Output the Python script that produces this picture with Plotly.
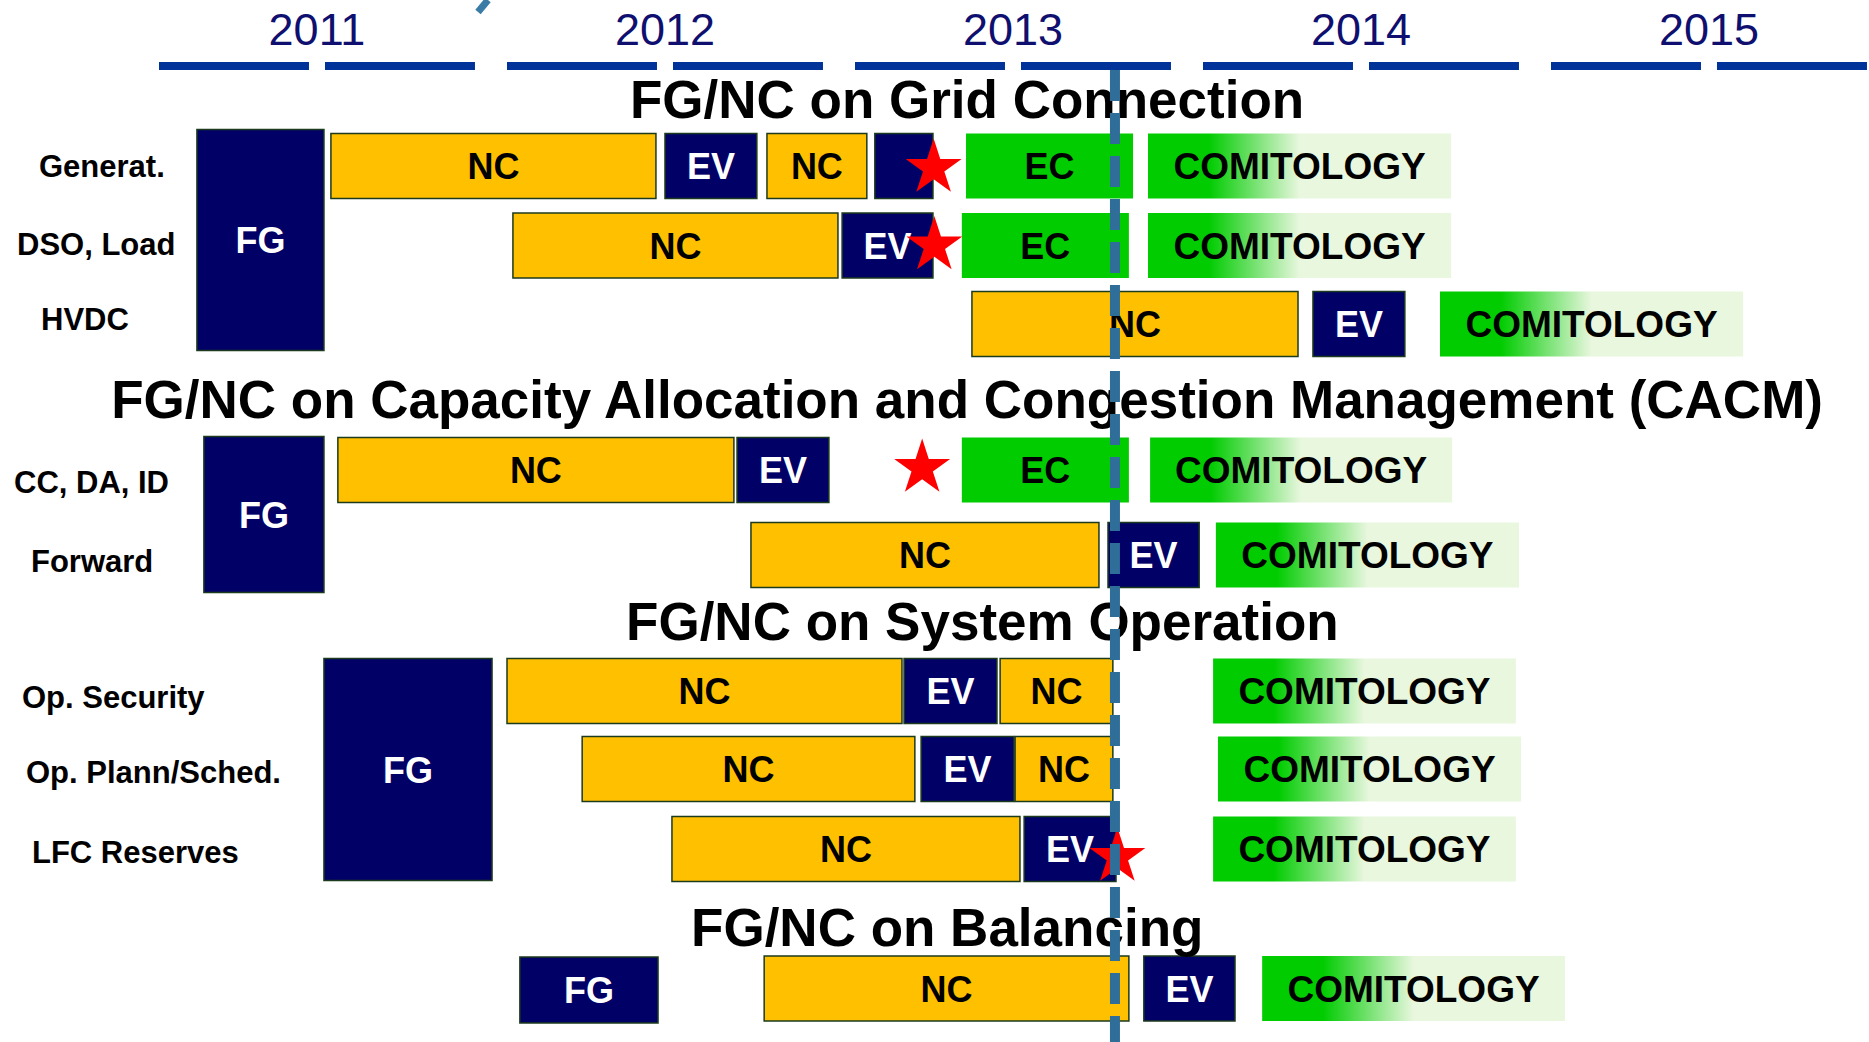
import plotly.graph_objects as go

# ---------------- DATA ----------------
YEARS = [2011, 2012, 2013, 2014, 2015]

ROW_NAMES = ["Generat.", "DSO, Load", "HVDC", "CC, DA, ID", "Forward",
             "Op. Security", "Op. Plann/Sched.", "LFC Reserves", "Balancing"]
ROW_LABELS = ["Generat.", "DSO, Load", "HVDC", "CC, DA, ID", "Forward",
              "Op. Security", "Op. Plann/Sched.", "LFC Reserves", ""]

SECTION_TITLES = ["FG/NC on Grid Connection",
                  "FG/NC on Capacity Allocation and Congestion Management (CACM)",
                  "FG/NC on System Operation",
                  "FG/NC on Balancing"]

# Framework Guidelines (each spans several rows)
FG_FIRST_ROW = ["Generat.", "CC, DA, ID", "Op. Security", "Balancing"]
FG_LAST_ROW = ["HVDC", "Forward", "LFC Reserves", "Balancing"]
FG_START = [2011.109, 2011.129, 2011.474, 2012.037]
FG_END = [2011.474, 2011.474, 2011.957, 2012.434]

# Network Code drafting
NC_ROW = ["Generat.", "Generat.", "DSO, Load", "HVDC", "CC, DA, ID", "Forward",
          "Op. Security", "Op. Security", "Op. Plann/Sched.", "Op. Plann/Sched.",
          "LFC Reserves", "Balancing"]
NC_START = [2011.494, 2012.747, 2012.017, 2013.336, 2011.514, 2012.701,
            2012.000, 2013.417, 2012.216, 2013.460, 2012.474, 2012.739]
NC_END = [2012.428, 2013.034, 2012.951, 2014.273, 2012.652, 2013.701,
          2013.135, 2013.741, 2013.172, 2013.741, 2013.474, 2013.787]

# Evaluation
EV_ROW = ["Generat.", "Generat.", "DSO, Load", "HVDC", "CC, DA, ID", "Forward",
          "Op. Security", "Op. Plann/Sched.", "LFC Reserves", "Balancing"]
EV_START = [2012.454, 2013.057, 2012.963, 2014.316, 2012.661, 2013.727,
            2013.141, 2013.190, 2013.486, 2013.830]
EV_END = [2012.718, 2013.224, 2013.224, 2014.580, 2012.925, 2013.989,
          2013.408, 2013.457, 2013.750, 2014.092]
EV_TEXT = ["EV", "", "EV", "EV", "EV", "EV", "EV", "EV", "EV", "EV"]

# European Commission
EC_ROW = ["Generat.", "DSO, Load", "CC, DA, ID"]
EC_START = [2013.319, 2013.307, 2013.307]
EC_END = [2013.799, 2013.787, 2013.787]

# Comitology
COM_ROW = ["Generat.", "DSO, Load", "HVDC", "CC, DA, ID", "Forward",
           "Op. Security", "Op. Plann/Sched.", "LFC Reserves", "Balancing"]
COM_START = [2013.842, 2013.842, 2014.681, 2013.848, 2014.037,
             2014.029, 2014.043, 2014.029, 2014.170]
COM_END = [2014.713, 2014.713, 2015.552, 2014.716, 2014.908,
           2014.899, 2014.914, 2014.899, 2015.040]

# Milestones (red stars)
STAR_ROW = ["Generat.", "DSO, Load", "CC, DA, ID", "LFC Reserves"]
STAR_X = [2013.226, 2013.228, 2013.193, 2013.754]

TODAY = 2013.747

# ---------------- LAYOUT / STYLE ----------------
W, H = 1869, 1042
X_RANGE = [2010.5431, 2015.9138]
ROW_Y = {"Generat.": 166, "DSO, Load": 245.5, "HVDC": 324, "CC, DA, ID": 470,
         "Forward": 555, "Op. Security": 691, "Op. Plann/Sched.": 769,
         "LFC Reserves": 849, "Balancing": 988.5}
BAR_H = 65
FG_PAD_TOP = [4, 1, 0, -1]
FG_PAD_BOTTOM = [-6, 5, -1, 2]
STAR_DY = [2, 0, -2, 8]
BOX_TEXT_DY = 4
TITLE_X = [2013.322, 2013.322, 2013.366, 2013.265]
TITLE_Y = [105, 405, 627, 933]
LABEL_LEFT_PX = [37, 15, 39, 12, 29, 20, 24, 30, 0]
LABEL_Y = [166, 244, 319, 482, 561, 697, 772, 852, 988]
YEAR_LABEL_Y = 34
YEAR_DASH_Y = 66
HALF_YEAR_SEGMENTS = [(0.0, 0.431), (0.477, 0.908)]

NAVY = "#000066"
GOLD = "#FFC000"
GREEN = "#00CC00"
PALE = "#E8F7DE"
EDGE = "#1c3a1c"
DASH_BLUE = "#003399"
TODAY_BLUE = "#2f6e98"
FONT = "Liberation Sans, Arial, sans-serif"

fig = go.Figure()


def ys(rows, dy=0):
    return [ROW_Y[r] + dy for r in rows]


def mids(s, e):
    return [(a + b) / 2 for a, b in zip(s, e)]


def durs(s, e):
    return [b - a for a, b in zip(s, e)]


# FG blocks
fg_top = [ROW_Y[a] - BAR_H / 2 - p for a, p in zip(FG_FIRST_ROW, FG_PAD_TOP)]
fg_bot = [ROW_Y[b] + BAR_H / 2 + p for b, p in zip(FG_LAST_ROW, FG_PAD_BOTTOM)]
fg_y = [(t + b) / 2 for t, b in zip(fg_top, fg_bot)]
fg_w = [b - t for t, b in zip(fg_top, fg_bot)]
fig.add_trace(go.Bar(orientation="h", y=fg_y, base=FG_START, x=durs(FG_START, FG_END),
                     width=fg_w, marker=dict(color=NAVY, line=dict(color=EDGE, width=1.5)),
                     hoverinfo="skip"))
# NC
fig.add_trace(go.Bar(orientation="h", y=ys(NC_ROW), base=NC_START, x=durs(NC_START, NC_END),
                     width=BAR_H, marker=dict(color=GOLD, line=dict(color=EDGE, width=1.5)),
                     hoverinfo="skip"))
# EV
fig.add_trace(go.Bar(orientation="h", y=ys(EV_ROW), base=EV_START, x=durs(EV_START, EV_END),
                     width=BAR_H, marker=dict(color=NAVY, line=dict(color=EDGE, width=1.5)),
                     hoverinfo="skip"))
# EC
fig.add_trace(go.Bar(orientation="h", y=ys(EC_ROW), base=EC_START, x=durs(EC_START, EC_END),
                     width=BAR_H, marker=dict(color=GREEN, line=dict(width=0)),
                     hoverinfo="skip"))
# Comitology with gradient
for r, s, e in zip(COM_ROW, COM_START, COM_END):
    yc = ROW_Y[r]
    y0, y1 = yc - BAR_H / 2, yc + BAR_H / 2
    fig.add_trace(go.Scatter(
        x=[s, e, e, s, s], y=[y0, y0, y1, y1, y0], mode="lines", fill="toself",
        line=dict(width=0, color="rgba(0,0,0,0)"),
        fillgradient=dict(type="horizontal", start=s, stop=e,
                          colorscale=[[0, GREEN], [0.2, GREEN], [0.5, PALE], [1, PALE]]),
        hoverinfo="skip"))

# Box labels
box_font = dict(family=FONT, size=36, weight=700)
fig.add_trace(go.Scatter(x=mids(FG_START, FG_END), y=[v + BOX_TEXT_DY for v in fg_y], mode="text",
                         text=["FG"] * len(FG_START), textposition="middle center",
                         textfont=dict(box_font, color="white"), hoverinfo="skip", cliponaxis=False))
fig.add_trace(go.Scatter(x=mids(NC_START, NC_END), y=ys(NC_ROW, BOX_TEXT_DY), mode="text",
                         text=["NC"] * len(NC_START), textposition="middle center",
                         textfont=dict(box_font, color="black"), hoverinfo="skip", cliponaxis=False))
fig.add_trace(go.Scatter(x=mids(EV_START, EV_END), y=ys(EV_ROW, BOX_TEXT_DY), mode="text",
                         text=EV_TEXT, textposition="middle center",
                         textfont=dict(box_font, color="white"), hoverinfo="skip", cliponaxis=False))
fig.add_trace(go.Scatter(x=mids(EC_START, EC_END), y=ys(EC_ROW, BOX_TEXT_DY), mode="text",
                         text=["EC"] * len(EC_START), textposition="middle center",
                         textfont=dict(box_font, color="black"), hoverinfo="skip", cliponaxis=False))
fig.add_trace(go.Scatter(x=mids(COM_START, COM_END), y=ys(COM_ROW, BOX_TEXT_DY), mode="text",
                         text=["COMITOLOGY"] * len(COM_START), textposition="middle center",
                         textfont=dict(family=FONT, size=37, weight=700, color="black"),
                         hoverinfo="skip", cliponaxis=False))

# Section titles
fig.add_trace(go.Scatter(x=TITLE_X, y=TITLE_Y, mode="text", text=SECTION_TITLES,
                         textposition="middle center",
                         textfont=dict(family=FONT, size=53, weight=700, color="black"),
                         hoverinfo="skip", cliponaxis=False))

# Year axis: labels and half-year dashes
fig.add_trace(go.Scatter(x=[y + 0.454 for y in YEARS], y=[YEAR_LABEL_Y] * len(YEARS),
                         mode="text", text=[str(y) for y in YEARS], textposition="middle center",
                         textfont=dict(family=FONT, size=45, color="#0f0f70"),
                         hoverinfo="skip", cliponaxis=False))
dx, dy = [], []
for yr in YEARS:
    for a, b in HALF_YEAR_SEGMENTS:
        dx += [yr + a, yr + b, None]
        dy += [YEAR_DASH_Y, YEAR_DASH_Y, None]
fig.add_trace(go.Scatter(x=dx, y=dy, mode="lines", line=dict(color=DASH_BLUE, width=8),
                         hoverinfo="skip"))

# Stars
fig.add_trace(go.Scatter(x=STAR_X, y=[ROW_Y[r] + d for r, d in zip(STAR_ROW, STAR_DY)],
                         mode="markers",
                         marker=dict(symbol="star", size=42, color="#FF0000", line=dict(width=0)),
                         hoverinfo="skip", cliponaxis=False))

# Today line
fig.add_trace(go.Scatter(x=[TODAY, TODAY], y=[70, H], mode="lines",
                         line=dict(color=TODAY_BLUE, width=10, dash="31px,12px"),
                         hoverinfo="skip"))

# Row labels
for lab, lx, ly in zip(ROW_LABELS, LABEL_LEFT_PX, LABEL_Y):
    if not lab:
        continue
    fig.add_annotation(x=lx / W, xref="paper", xanchor="left", y=ly, yref="y", yanchor="middle",
                       text=lab, showarrow=False,
                       font=dict(family=FONT, size=31, weight=700, color="black"))

# small cut-off logo stroke at the top
fig.add_shape(type="line", xref="paper", yref="paper", x0=488 / W, y0=1.0, x1=478 / W,
              y1=1 - 12 / H, line=dict(color="#3a7ca5", width=7))

fig.update_layout(
    width=W, height=H, margin=dict(l=0, r=0, t=0, b=0),
    paper_bgcolor="white", plot_bgcolor="white", showlegend=False,
    barmode="overlay",
    xaxis=dict(range=X_RANGE, visible=False, fixedrange=True),
    yaxis=dict(range=[H, 0], visible=False, fixedrange=True),
)

fig.write_html("out.html", config={"displayModeBar": False},
               post_script="document.body.style.margin='0';document.body.style.overflow='hidden';")
